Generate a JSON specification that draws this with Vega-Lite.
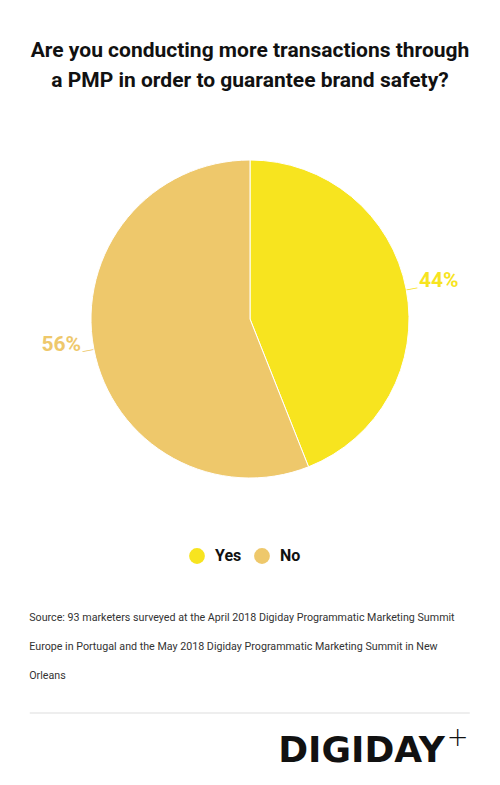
{
  "$schema": "https://vega.github.io/schema/vega-lite/v6.json",
  "background": "white",
  "padding": {"top": 40, "left": 0, "right": 0, "bottom": 0},
  "spacing": 122,
  "center": true,
  "config": {
    "view": {"stroke": null},
    "font": "Roboto"
  },
  "title": {
    "text": ["Are you conducting more transactions through", "a PMP in order to guarantee brand safety?"],
    "anchor": "middle",
    "font": "Roboto",
    "fontSize": 21,
    "fontWeight": "bold",
    "color": "#111111",
    "lineHeight": 30,
    "offset": 58
  },
  "vconcat": [
    {
      "width": 500,
      "height": 340,
      "data": {
        "values": [
          {"answer": "Yes", "share": 0.44, "rank": 1},
          {"answer": "No", "share": 0.56, "rank": 2}
        ]
      },
      "encoding": {
        "theta": {"field": "share", "type": "quantitative", "stack": true},
        "order": {"field": "rank", "type": "quantitative"},
        "color": {
          "field": "answer",
          "type": "nominal",
          "scale": {"domain": ["Yes", "No"], "range": ["#F7E41F", "#EEC86B"]},
          "legend": {
            "title": null,
            "orient": "none",
            "legendX": 189,
            "legendY": 399,
            "direction": "horizontal",
            "symbolType": "circle",
            "symbolSize": 250,
            "symbolStrokeWidth": 0,
            "labelFontSize": 16,
            "labelFontWeight": "bold",
            "labelColor": "#111111",
            "labelFont": "Roboto",
            "labelOffset": 10,
            "columnPadding": 12
          }
        }
      },
      "layer": [
        {"mark": {"type": "arc", "outerRadius": 159, "stroke": "#ffffff", "strokeWidth": 1}},
        {
          "mark": {
            "type": "text",
            "radius": 172,
            "fontSize": 21,
            "fontWeight": "bold",
            "font": "Roboto",
            "baseline": "alphabetic",
            "align": {"expr": "datum.answer == 'Yes' ? 'left' : 'right'"}
          },
          "encoding": {"text": {"field": "share", "type": "quantitative", "format": ".0%"}}
        },
        {
          "mark": {"type": "text", "radius": 165, "text": "—", "fontSize": 12, "angle": -11, "baseline": "middle", "font": "DejaVu Sans"}
        }
      ]
    },
    {
      "width": 440,
      "height": 50,
      "title": {
        "text": [
          "Source: 93 marketers surveyed at the April 2018 Digiday Programmatic Marketing Summit",
          "Europe in Portugal and the May 2018 Digiday Programmatic Marketing Summit in New",
          "Orleans"
        ],
        "anchor": "start",
        "font": "Roboto",
        "fontSize": 10.7,
        "fontWeight": "normal",
        "color": "#333333",
        "lineHeight": 29,
        "offset": 31
      },
      "data": {"values": [{"brand": "DIGIDAY", "sign": "+"}]},
      "layer": [
        {"mark": {"type": "rule", "color": "#dddddd", "strokeWidth": 1}, "encoding": {"y": {"value": 0}}},
        {
          "mark": {"type": "text", "align": "right", "baseline": "alphabetic", "fontSize": 36, "fontWeight": "bold", "font": "DejaVu Sans", "color": "#111111"},
          "encoding": {"text": {"field": "brand"}, "x": {"value": 415}, "y": {"value": 49}}
        },
        {
          "mark": {"type": "text", "align": "center", "baseline": "middle", "fontSize": 26, "fontWeight": 300, "font": "DejaVu Sans", "color": "#111111"},
          "encoding": {"text": {"field": "sign"}, "x": {"value": 428}, "y": {"value": 25}}
        }
      ]
    }
  ]
}
